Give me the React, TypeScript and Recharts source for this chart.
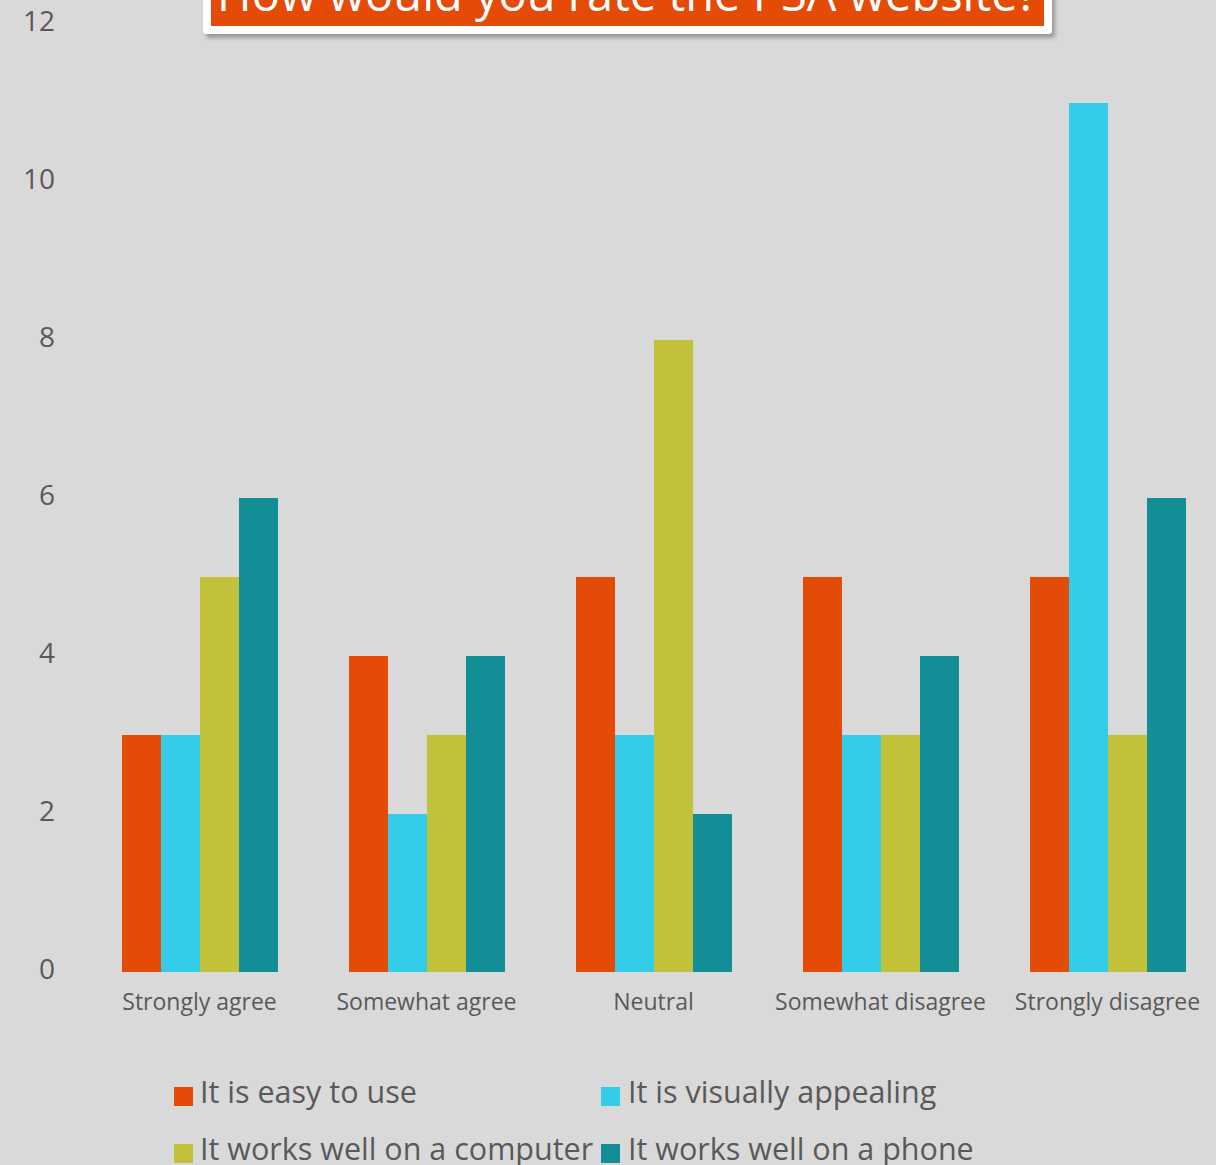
import React from "react";
import { BarChart, Bar, XAxis, YAxis } from "recharts";

const categories = ["Strongly agree", "Somewhat agree", "Neutral", "Somewhat disagree", "Strongly disagree"];
const seriesNames = ["It is easy to use", "It is visually appealing", "It works well on a computer", "It works well on a phone"];
const easyToUse = [3, 4, 5, 5, 5];
const visuallyAppealing = [3, 2, 3, 3, 11];
const worksOnComputer = [5, 3, 8, 3, 3];
const worksOnPhone = [6, 4, 2, 4, 6];
const yTicks = [0, 2, 4, 6, 8, 10, 12];
const titleText = "How would you rate the PSA website?";

const colors = ["#E34B06", "#33CCE8", "#C2C13A", "#138E96"];
const seriesValues = [easyToUse, visuallyAppealing, worksOnComputer, worksOnPhone];
const keys = ["s0", "s1", "s2", "s3"];

const data = categories.map((c, i) => {
  const row: Record<string, any> = { category: c };
  seriesValues.forEach((vals, k) => {
    row[keys[k]] = vals[i];
  });
  return row;
});

const FONT = "'Open Sans', 'Noto Sans', sans-serif";
const TEXT = "#595959";

const YTick = (props: any) => {
  const { x, y, payload } = props;
  return (
    <text x={x} y={y + 7} textAnchor="end" fill={TEXT} fontSize={28} fontFamily={FONT}>
      {payload.value}
    </text>
  );
};

const XTick = (props: any) => {
  const { x, y, payload } = props;
  return (
    <text x={x} y={y + 38} textAnchor="middle" fill={TEXT} fontSize={23} fontFamily={FONT}>
      {payload.value}
    </text>
  );
};

const legendPos = [
  { sx: 174, tx: 200, base: 1103 },
  { sx: 601, tx: 628, base: 1103 },
  { sx: 174, tx: 200, base: 1160 },
  { sx: 601, tx: 628, base: 1160 },
];

export default function App() {
  return (
    <div
      style={{
        position: "absolute",
        left: 0,
        top: 0,
        width: 1216,
        height: 1165,
        overflow: "hidden",
        background: "#D9D9D9",
        fontFamily: FONT,
      }}
    >
      <BarChart
        width={1221}
        height={1165}
        data={data}
        margin={{ top: 24, right: 0, bottom: 0, left: 0 }}
        barGap={0}
        barSize={39}
      >
        <YAxis
          domain={[0, 12]}
          ticks={yTicks}
          width={86}
          axisLine={false}
          tickLine={false}
          tickSize={0}
          tickMargin={31}
          tick={<YTick />}
          interval={0}
        />
        <XAxis
          dataKey="category"
          height={193}
          axisLine={false}
          tickLine={false}
          tickSize={0}
          tickMargin={0}
          tick={<XTick />}
          interval={0}
        />
        {keys.map((k, i) => (
          <Bar key={k} dataKey={k} name={seriesNames[i]} fill={colors[i]} isAnimationActive={false} />
        ))}
      </BarChart>

      <div
        style={{
          position: "absolute",
          left: 203,
          top: -40,
          width: 849,
          height: 74,
          boxSizing: "border-box",
          border: "8px solid #FFFFFF",
          borderRadius: 3,
          background: colors[0],
          boxShadow: "3px 4px 4px rgba(0,0,0,0.3)",
          overflow: "hidden",
        }}
      >
        <div
          style={{
            position: "absolute",
            left: 0,
            right: 0,
            top: 2,
            textAlign: "center",
            color: "#FFFFFF",
            fontSize: 47,
            lineHeight: "47px",
            whiteSpace: "nowrap",
          }}
        >
          {titleText}
        </div>
      </div>

      <svg width={1216} height={1165} style={{ position: "absolute", left: 0, top: 0, pointerEvents: "none" }}>
        {seriesNames.map((name, i) => (
          <g key={name}>
            <rect x={legendPos[i].sx} y={legendPos[i].base - 16} width={19} height={19} fill={colors[i]} />
            <text x={legendPos[i].tx} y={legendPos[i].base} fill={TEXT} fontSize={30.5} fontFamily={FONT}>
              {name}
            </text>
          </g>
        ))}
      </svg>
    </div>
  );
}
